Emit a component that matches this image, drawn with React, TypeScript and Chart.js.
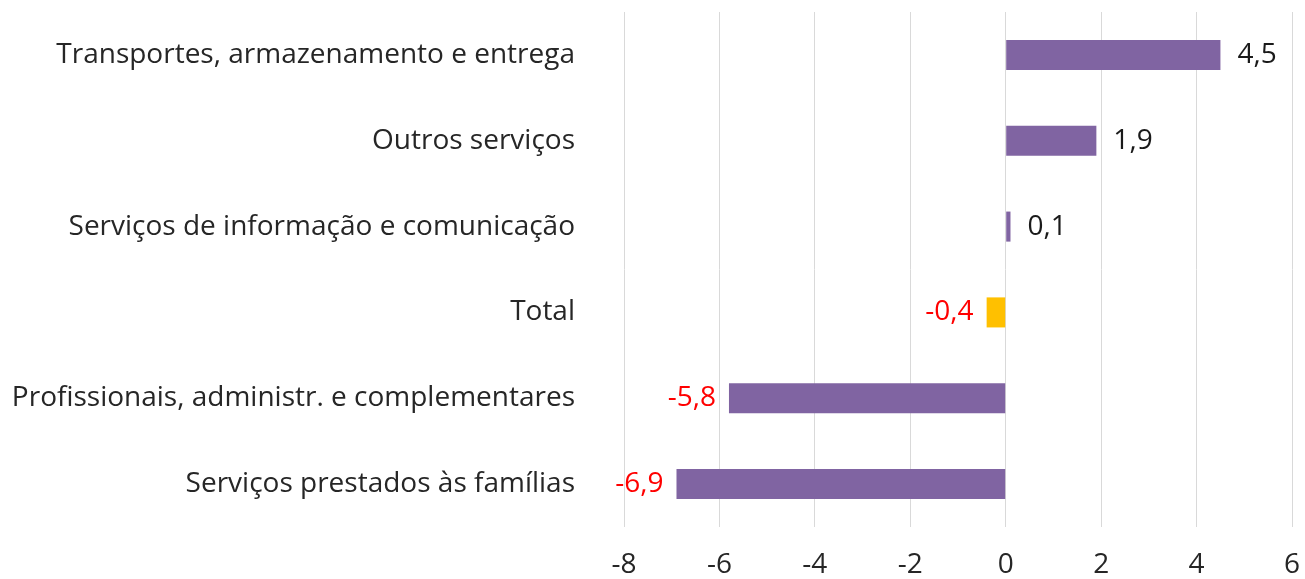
import React, { useEffect, useRef } from "react";
import { Chart, registerables } from "chart.js";

Chart.register(...registerables);

const categories = [
  "Transportes, armazenamento e entrega",
  "Outros serviços",
  "Serviços de informação e comunicação",
  "Total",
  "Profissionais, administr. e complementares",
  "Serviços prestados às famílias",
];
const values = [4.5, 1.9, 0.1, -0.4, -5.8, -6.9];
const valueLabels = ["4,5", "1,9", "0,1", "-0,4", "-5,8", "-6,9"];
const barColors = ["#8064A2", "#8064A2", "#8064A2", "#FFC000", "#8064A2", "#8064A2"];
const xTicks = [-8, -6, -4, -2, 0, 2, 4, 6];

const FONT = "'Open Sans'";
const SIZE = 28;

const labelPlugin = {
  id: "valueLabels",
  afterDatasetsDraw(chart: any) {
    const ctx = chart.ctx;
    const meta = chart.getDatasetMeta(0);
    ctx.save();
    ctx.font = `${SIZE}px ${FONT}`;
    ctx.textBaseline = "middle";
    meta.data.forEach((bar: any, i: number) => {
      const v = values[i];
      if (v >= 0) {
        ctx.fillStyle = "#1A1A1A";
        ctx.textAlign = "left";
        ctx.fillText(valueLabels[i], bar.x + 17, bar.y);
      } else {
        ctx.fillStyle = "#FF0000";
        ctx.textAlign = "right";
        ctx.fillText(valueLabels[i], bar.x - 13, bar.y);
      }
    });
    ctx.restore();
  },
};

export default function App() {
  const ref = useRef<HTMLCanvasElement>(null);
  useEffect(() => {
    const chart = new Chart(ref.current!, {
      type: "bar",
      data: {
        labels: categories,
        datasets: [
          {
            data: values,
            backgroundColor: barColors,
            categoryPercentage: 1,
            barPercentage: 0.35,
          },
        ],
      },
      options: {
        indexAxis: "y",
        animation: false,
        responsive: false,
        layout: { padding: { top: 12, right: 13, bottom: 0, left: 0 } },
        plugins: { legend: { display: false }, tooltip: { enabled: false } },
        scales: {
          x: {
            min: -8,
            max: 6,
            afterBuildTicks(axis: any) {
              axis.ticks = xTicks.map((v) => ({ value: v }));
            },
            afterFit(axis: any) {
              axis.height = 52;
              axis.paddingLeft = 0;
              axis.paddingRight = 0;
            },
            grid: { color: "#D9D9D9", lineWidth: 1, drawTicks: false },
            border: { display: false },
            ticks: {
              color: "#262626",
              font: { family: FONT, size: SIZE },
              padding: 21,
            },
          },
          y: {
            grid: { display: false },
            border: { display: false },
            afterFit(axis: any) {
              axis.width = 624;
              axis.paddingTop = 0;
              axis.paddingBottom = 0;
            },
            ticks: {
              color: "#262626",
              font: { family: FONT, size: SIZE },
              padding: 41,
            },
          },
        },
      },
      plugins: [labelPlugin],
    });
    return () => chart.destroy();
  }, []);
  return (
    <div style={{ position: "fixed", left: 0, top: 0, width: 1305, height: 579, background: "#fff" }}>
      <canvas ref={ref} width={1305} height={579} />
    </div>
  );
}
